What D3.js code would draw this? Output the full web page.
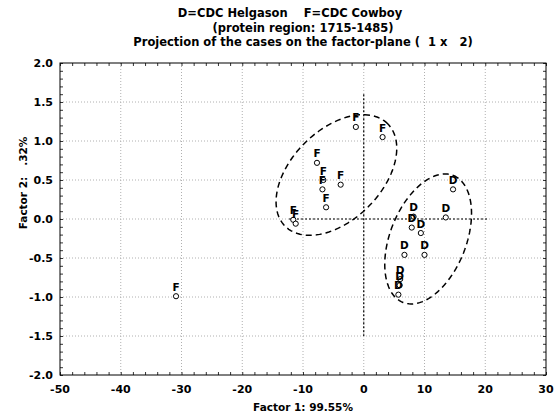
<!DOCTYPE html>
<html>
<head>
<meta charset="utf-8">
<script src="https://cdn.jsdelivr.net/npm/d3@7"></script>
<style>
  body { margin: 0; background: #fff; }
  text { font-family: "DejaVu Sans", Verdana, sans-serif; font-weight: bold; }
</style>
</head>
<body>
<div id="chart"></div>
<script>
// Data
const fPoints = [
  [-30.9, -0.99], [-1.3, 1.18], [3.1, 1.05], [-7.7, 0.72], [-6.65, 0.50],
  [-6.8, 0.38], [-3.8, 0.44], [-6.2, 0.15], [-11.6, -0.01], [-11.2, -0.06]
];
const dPoints = [
  [14.7, 0.38], [13.5, 0.02], [8.2, 0.03], [7.9, -0.11], [9.4, -0.18],
  [6.7, -0.46], [10.0, -0.46], [6.0, -0.77], [5.9, -0.85], [5.7, -0.97]
];
// ellipses: centre, major semi-axis vector, minor semi-axis vector (data units)
const ellipses = [
  { c: [-4.5, 0.564], u: [8.44, 0.657], v: [-5.24, 0.408] },
  { c: [10.6, -0.256], u: [4.14, 0.814], v: [5.82, -0.179] }
];
const xTicks = [-50, -40, -30, -20, -10, 0, 10, 20, 30];
const yTicks = [-2.0, -1.5, -1.0, -0.5, 0.0, 0.5, 1.0, 1.5, 2.0];
const titleLines = [
  "D=CDC Helgason    F=CDC Cowboy",
  "(protein region: 1715-1485)",
  "Projection of the cases on the factor-plane (  1 x   2)"
];
const xLabel = "Factor 1: 99.55%";
const yLabel = "Factor 2:   .32%";

const width = 556, height = 416;
const margin = { left: 60, right: 10, top: 63, bottom: 41 };

const svg = d3.select("#chart").append("svg")
  .attr("width", width)
  .attr("height", height);

const x = d3.scaleLinear().domain([-50, 30]).range([margin.left, width - margin.right]);
const y = d3.scaleLinear().domain([-2, 2]).range([height - margin.bottom, margin.top]);

// grid lines
svg.append("g").selectAll("line").data(xTicks.slice(1, -1)).join("line")
  .attr("x1", d => x(d)).attr("x2", d => x(d))
  .attr("y1", y(2)).attr("y2", y(-2))
  .attr("stroke", "#b0b0b0").attr("stroke-width", 1)
  .attr("stroke-dasharray", "1,2");
svg.append("g").selectAll("line").data(yTicks.slice(1, -1)).join("line")
  .attr("y1", d => y(d)).attr("y2", d => y(d))
  .attr("x1", x(-50)).attr("x2", x(30))
  .attr("stroke", "#b0b0b0").attr("stroke-width", 1)
  .attr("stroke-dasharray", "1,2");

// zero lines
svg.append("line")
  .attr("x1", x(-12.3)).attr("x2", x(20.5))
  .attr("y1", y(0)).attr("y2", y(0))
  .attr("stroke", "#000").attr("stroke-width", 1.2)
  .attr("stroke-dasharray", "2,2");
svg.append("line")
  .attr("x1", x(0)).attr("x2", x(0))
  .attr("y1", y(1.6)).attr("y2", y(-1.5))
  .attr("stroke", "#000").attr("stroke-width", 1.2)
  .attr("stroke-dasharray", "2,2");

// axes with minor inner ticks
const xMinor = d3.range(-50, 31, 2);
const yMinor = d3.range(-20, 21).map(d => d / 10);

svg.append("g")
  .attr("transform", `translate(0,${y(-2)})`)
  .call(d3.axisBottom(x).tickValues(xMinor).tickSize(-3).tickFormat(""))
  .call(g => g.select(".domain").remove());
svg.append("g")
  .attr("transform", `translate(0,${y(2)})`)
  .call(d3.axisTop(x).tickValues(xMinor).tickSize(-3).tickFormat(""))
  .call(g => g.select(".domain").remove());
svg.append("g")
  .attr("transform", `translate(${x(-50)},0)`)
  .call(d3.axisLeft(y).tickValues(yMinor).tickSize(-3).tickFormat(""))
  .call(g => g.select(".domain").remove());
svg.append("g")
  .attr("transform", `translate(${x(30)},0)`)
  .call(d3.axisRight(y).tickValues(yMinor).tickSize(-3).tickFormat(""))
  .call(g => g.select(".domain").remove());
svg.selectAll(".tick line").attr("stroke", "#333");

// tick labels
svg.append("g").selectAll("text").data(xTicks).join("text")
  .attr("x", d => x(d)).attr("y", y(-2) + 18)
  .attr("text-anchor", "middle").attr("font-size", 11)
  .text(d => d);
svg.append("g").selectAll("text").data(yTicks).join("text")
  .attr("x", x(-50) - 7).attr("y", d => y(d) + 4)
  .attr("text-anchor", "end").attr("font-size", 11)
  .text(d => d3.format(".1f")(d).replace("−", "-"));

// frame
svg.append("rect")
  .attr("x", x(-50)).attr("y", y(2))
  .attr("width", x(30) - x(-50)).attr("height", y(-2) - y(2))
  .attr("fill", "none").attr("stroke", "#000").attr("stroke-width", 1);

// ellipses
const line = d3.line().x(d => x(d[0])).y(d => y(d[1])).curve(d3.curveLinearClosed);
ellipses.forEach(e => {
  const pts = d3.range(0, 360, 3).map(a => {
    const t = a * Math.PI / 180;
    return [e.c[0] + e.u[0] * Math.cos(t) + e.v[0] * Math.sin(t),
            e.c[1] + e.u[1] * Math.cos(t) + e.v[1] * Math.sin(t)];
  });
  svg.append("path")
    .attr("d", line(pts))
    .attr("fill", "none").attr("stroke", "#000")
    .attr("stroke-width", 1.5).attr("stroke-dasharray", "6,4");
});

// points and labels
const allPoints = fPoints.map(p => ({ p, lab: "F" }))
  .concat(dPoints.map(p => ({ p, lab: "D" })));
const pg = svg.append("g");
allPoints.forEach(d => {
  pg.append("circle")
    .attr("cx", x(d.p[0])).attr("cy", y(d.p[1])).attr("r", 2.6)
    .attr("fill", "#fff").attr("stroke", "#000").attr("stroke-width", 1);
});
allPoints.forEach(d => {
  pg.append("text")
    .attr("x", x(d.p[0])).attr("y", y(d.p[1]) - 5.5)
    .attr("text-anchor", "middle").attr("font-size", 10.5)
    .text(d.lab);
});

// titles
svg.append("g").selectAll("text").data(titleLines).join("text")
  .attr("x", (d, i) => i === 0 ? 290 : (x(-50) + x(30)) / 2)
  .attr("y", (d, i) => 17 + i * 14.5)
  .attr("text-anchor", "middle").attr("font-size", 11.5)
  .style("white-space", "pre")
  .text(d => d);

svg.append("text")
  .attr("x", (x(-50) + x(30)) / 2).attr("y", 411)
  .attr("text-anchor", "middle").attr("font-size", 10.5)
  .text(xLabel);
svg.append("text")
  .attr("transform", `translate(27,183) rotate(-90)`)
  .attr("text-anchor", "middle").attr("font-size", 10.5)
  .style("white-space", "pre")
  .text(yLabel);
</script>
</body>
</html>
